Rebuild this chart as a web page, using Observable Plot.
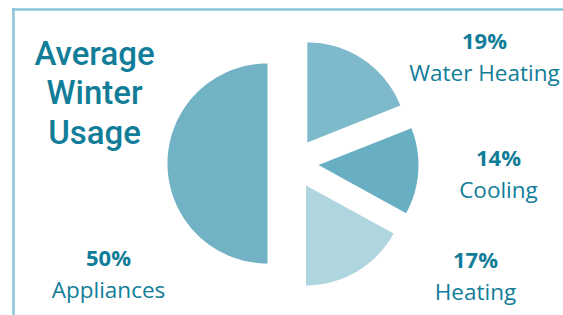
<!DOCTYPE html>
<html>
<head>
<meta charset="utf-8">
<script src="https://cdn.jsdelivr.net/npm/d3@7"></script>
<script src="https://cdn.jsdelivr.net/npm/@observablehq/plot@0.6"></script>
<style>
  html, body { margin: 0; padding: 0; background: #fff; }
  #chart svg { display: block; }
</style>
</head>
<body>
<div id="chart"></div>
<script>
// Data (clockwise from 12 o'clock)
const categories = ["Water Heating", "Cooling", "Heating", "Appliances"];
const shares = [19, 14, 17, 50];
const sliceColors = ["#7ebacb", "#69afc3", "#afd5df", "#72b2c5"];
const titleLines = ["Average", "Winter", "Usage"];

// Layout
const W = 563, H = 315;
const cx = 292.5, cy = 163, R = 100, explode = 25.5;
const labelPos = [
  {x: 484, y: 48},
  {x: 498, y: 165},
  {x: 475, y: 267},
  {x: 108, y: 265}
];
const textColor = "#127d98";

// Build slice polygons from shares
const total = d3.sum(shares);
const slicePts = [];
let cum = 0;
categories.forEach((cat, i) => {
  const a0 = cum / total * 2 * Math.PI;
  cum += shares[i];
  const a1 = cum / total * 2 * Math.PI;
  const mid = (a0 + a1) / 2;
  const ox = cx + explode * Math.sin(mid);
  const oy = cy - explode * Math.cos(mid);
  slicePts.push({cat, x: ox, y: oy});
  const n = Math.max(8, Math.ceil((a1 - a0) * 60));
  for (let k = 0; k <= n; k++) {
    const a = a0 + (a1 - a0) * k / n;
    slicePts.push({cat, x: ox + R * Math.sin(a), y: oy - R * Math.cos(a)});
  }
});

const pctLabels = categories.map((c, i) => ({x: labelPos[i].x, y: labelPos[i].y, t: shares[i] + "%"}));
const nameLabels = categories.map((c, i) => ({x: labelPos[i].x, y: labelPos[i].y + 32, t: c}));
const titleData = [{x: 94, y: 91, t: titleLines.join("\n")}];

const chart = Plot.plot({
  width: W,
  height: H,
  margin: 0,
  x: {domain: [0, W], range: [0, W], axis: null},
  y: {domain: [0, H], range: [0, H], axis: null},
  color: {domain: categories, range: sliceColors},
  style: {background: "#fff"},
  marks: [
    Plot.ruleY([9], {x1: 12, x2: W, stroke: "#8ac4d7", strokeWidth: 2.5}),
    Plot.ruleX([13], {y1: 8, y2: H, stroke: "#8ac4d7", strokeWidth: 2.5}),
    Plot.line(slicePts, {x: "x", y: "y", z: "cat", fill: "cat", stroke: "none", curve: "linear"}),
    Plot.text(titleData, {x: "x", y: "y", text: "t", fill: textColor, fontSize: 33, fontWeight: 500, fontFamily: "Roboto, sans-serif", lineAnchor: "middle", lineHeight: 1.2}),
    Plot.text(pctLabels, {x: "x", y: "y", text: "t", fill: textColor, fontSize: 22, fontWeight: "bold", fontFamily: "'Open Sans', 'Noto Sans', sans-serif", lineAnchor: "bottom"}),
    Plot.text(nameLabels, {x: "x", y: "y", text: "t", fill: textColor, fontSize: 22.5, fontFamily: "'Open Sans', 'Noto Sans', sans-serif", lineAnchor: "bottom"})
  ]
});
document.getElementById("chart").appendChild(chart);
</script>
</body>
</html>
